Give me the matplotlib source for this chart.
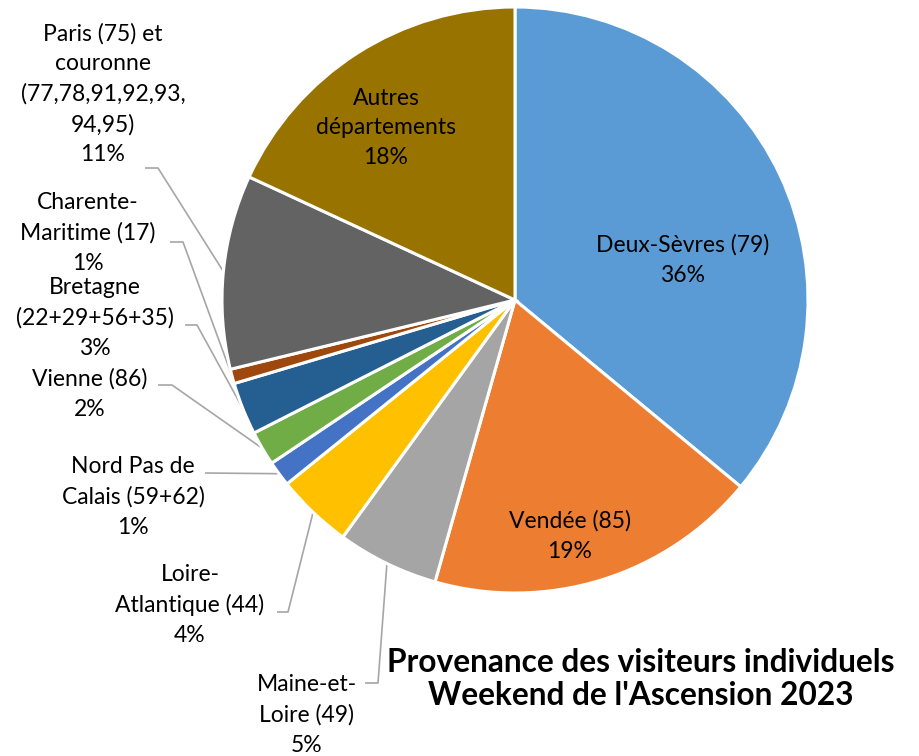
import numpy as np
import matplotlib
matplotlib.use('Agg')
import matplotlib.pyplot as plt

# data, clockwise from 12 o'clock
names = ["Deux-Sèvres (79)", "Vendée (85)", "Maine-et-\nLoire (49)", "Loire-\nAtlantique (44)",
         "Nord Pas de\nCalais (59+62)", "Vienne (86)", "Bretagne\n(22+29+56+35)",
         "Charente-\nMaritime (17)", "Paris (75) et\ncouronne\n(77,78,91,92,93,\n94,95)",
         "Autres\ndépartements"]
shares = [36.0, 18.4, 5.6, 4.2, 1.4, 1.9, 2.9, 0.8, 10.7, 18.1]
pct_txt = ["36%", "19%", "5%", "4%", "1%", "2%", "3%", "1%", "11%", "18%"]
colors = ["#5B9BD5", "#ED7D31", "#A5A5A5", "#FFC000", "#4472C4",
          "#70AD47", "#255E91", "#9E480E", "#636363", "#997300"]

W, H = 920, 756
plt.rcParams['font.family'] = ['Lato', 'DejaVu Sans']
fig = plt.figure(figsize=(W/100, H/100), dpi=100)
ax = fig.add_axes([0, 0, 1, 1])

cx, cy, R = 515, H-300, 293
wedges, _ = ax.pie(shares, colors=colors, startangle=90, counterclock=False,
                   center=(cx, cy), radius=R, frame=True,
                   wedgeprops=dict(edgecolor='white', linewidth=2.2))
ax.set_xlim(0, W); ax.set_ylim(0, H); ax.set_aspect('equal'); ax.axis('off')

fs, ls = 16.5, 1.52
# inside labels: (x, y) of text centre in pixels from top-left
inside = {0: (683, 260), 1: (570, 536), 9: (386, 128)}
for i, (x, y) in inside.items():
    ax.text(x, H-y, names[i] + "\n" + pct_txt[i], ha='center', va='center',
            fontsize=fs, linespacing=ls)

# outside labels: text centre, leader start x, elbow x, leader y
outside = {
    2: ((307, 715), 365, 378, 683),
    3: ((190, 605), 277, 288, 612),
    4: ((133, 497), 205, 205, 473),
    5: ((90, 394), 158, 172, 385),
    6: ((95, 318), 185, 197, 325),
    7: ((88, 233), 170, 183, 242),
    8: ((103, 94), 145, 158, 168),
}
for i, ((x, y), x0, x1, yl) in outside.items():
    ax.text(x, H-y, names[i] + "\n" + pct_txt[i], ha='center', va='center',
            fontsize=fs, linespacing=ls)
    w = wedges[i]
    th = np.deg2rad((w.theta1 + w.theta2) / 2)
    px, py = cx + R*np.cos(th), cy + R*np.sin(th)
    ax.plot([x0, x1, px], [H-yl, H-yl, py], color='#A6A6A6', lw=1.2,
            solid_capstyle='butt', zorder=0.5)

ax.text(641, H-679, "Provenance des visiteurs individuels\nWeekend de l'Ascension 2023",
        ha='center', va='center', fontsize=22.8, fontweight='bold', linespacing=1.15)

fig.savefig('out.png', dpi=100)
